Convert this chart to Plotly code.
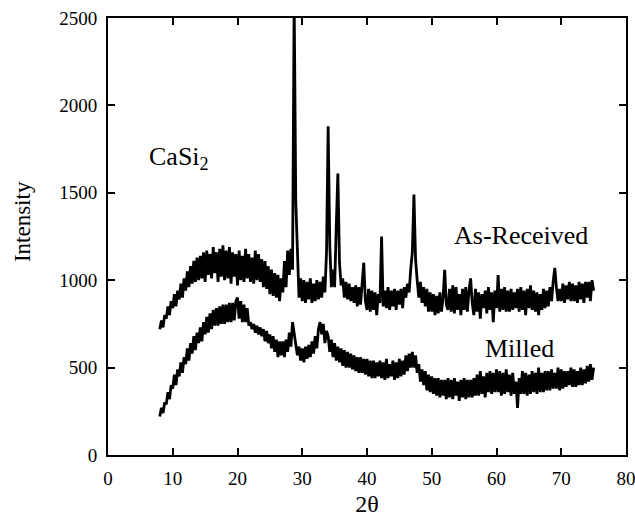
import numpy as np
import plotly.graph_objects as go

# 2-theta grid, 0.25 deg steps from 8 to 75
two_theta = np.arange(8.0, 75.01, 0.25)

as_received = [
    720, 770, 730, 800,  780, 850, 800, 880,  840, 920, 850, 940,  890, 980, 900, 1010,  # 8-11
    940, 1050, 960, 1080,  980, 1110, 990, 1130,  1000, 1140, 1010, 1160,  990, 1170, 1030, 1150,  # 12-15
    1010, 1190, 1040, 1160,  990, 1180, 1020, 1200,  1000, 1170, 1010, 1190,  980, 1160, 1020, 1150,  # 16-19
    970, 1170, 1000, 1140,  990, 1180, 1010, 1150,  990, 1130, 980, 1170,  1000, 1150, 990, 1120,  # 20-23
    960, 1110, 950, 1080,  920, 1060, 910, 1040,  900, 1030, 880, 1010,  930, 1110, 960, 1170,  # 24-27
    1030, 1180, 1060, 2600,  1450, 1150, 900, 1010,  880, 1000, 870, 990,  890, 1010, 870, 980,  # 28-31
    880, 1000, 890, 990,  900, 1020, 930, 1160,  1880, 1200, 960, 1060,  960, 1300, 1610, 1100,  # 32-35
    970, 1010, 900, 990,  890, 980, 880, 960,  870, 970, 850, 960,  860, 980, 1100, 880,  # 36-39
    830, 950, 820, 940,  830, 930, 800, 920,  870, 1250, 850, 940,  840, 960, 830, 940,  # 40-43
    850, 950, 830, 940,  860, 950, 840, 960,  900, 980, 930, 1060,  1160, 1490, 1120, 1000,  # 44-47
    900, 990, 870, 960,  850, 950, 820, 930,  820, 920, 800, 910,  810, 930, 820, 900,  # 48-51
    1060, 860, 830, 950,  820, 970, 810, 960,  830, 920, 800, 950,  830, 960, 820, 940,  # 52-55
    1010, 870, 800, 950,  820, 930, 780, 920,  840, 940, 810, 960,  830, 930, 760, 940,  # 56-59
    840, 1030, 820, 950,  830, 960, 820, 940,  820, 950, 830, 930,  840, 950, 820, 960,  # 60-63
    830, 940, 800, 950,  840, 970, 830, 940,  820, 930, 800, 920,  830, 950, 840, 940,  # 64-67
    850, 960, 880, 990,  1070, 960, 880, 950,  880, 980, 870, 970,  890, 990, 880, 980,  # 68-71
    880, 970, 870, 990,  890, 980, 870, 990,  900, 990, 880, 1000,  940,  # 72-75
]

milled = [
    220, 270, 240, 300,  290, 360, 320, 400,  380, 460, 400, 490,  450, 530, 470, 560,  # 8-11
    520, 610, 540, 640,  580, 680, 600, 700,  640, 730, 650, 760,  690, 790, 700, 810,  # 12-15
    720, 830, 740, 840,  740, 850, 750, 860,  750, 860, 760, 870,  760, 870, 770, 880,  # 16-19
    900, 780, 880, 760,  860, 760, 840, 740,  760, 720, 750, 700,  740, 690, 730, 680,  # 20-23
    720, 650, 710, 640,  690, 610, 680, 590,  660, 560, 650, 570,  650, 560, 660, 590,  # 24-27
    700, 620, 760, 700,  650, 570, 620, 540,  610, 530, 620, 550,  630, 560, 650, 580,  # 28-31
    680, 610, 720, 760,  690, 750, 640, 710,  680, 590, 660, 560,  640, 540, 620, 530,  # 32-35
    610, 510, 600, 500,  590, 500, 580, 490,  570, 480, 560, 470,  560, 470, 550, 460,  # 36-39
    550, 450, 540, 440,  540, 440, 530, 450,  540, 440, 530, 430,  550, 440, 520, 450,  # 40-43
    540, 430, 530, 440,  550, 450, 540, 460,  570, 480, 580, 500,  590, 500, 570, 470,  # 44-47
    520, 420, 490, 400,  480, 370, 460, 360,  450, 350, 440, 340,  440, 330, 430, 340,  # 48-51
    430, 320, 440, 330,  430, 320, 440, 340,  420, 310, 430, 330,  440, 320, 430, 330,  # 52-55
    430, 330, 440, 340,  460, 340, 480, 350,  450, 330, 470, 360,  480, 350, 470, 360,  # 56-59
    490, 360, 480, 340,  470, 350, 490, 360,  460, 340, 470, 350,  420, 270, 440, 350,  # 60-63
    480, 350, 470, 340,  460, 350, 480, 360,  470, 350, 500, 360,  470, 360, 480, 370,  # 64-67
    480, 370, 490, 380,  470, 380, 500, 370,  490, 380, 480, 390,  480, 400, 500, 390,  # 68-71
    490, 390, 480, 400,  500, 400, 490, 410,  510, 420, 520, 430,  500,  # 72-75
]

serif = '"Liberation Serif", "Times New Roman", Times, serif'

fig = go.Figure()
fig.add_trace(go.Scatter(x=two_theta, y=as_received, mode="lines",
                         line=dict(color="black", width=2.8), name="As-Received"))
fig.add_trace(go.Scatter(x=two_theta, y=milled, mode="lines",
                         line=dict(color="black", width=2.8), name="Milled"))

fig.add_annotation(x=6.0, y=1700, xanchor="left", text="CaSi<sub>2</sub>", showarrow=False,
                   font=dict(size=26, family=serif, color="black"))
fig.add_annotation(x=63.8, y=1255, text="As-Received", showarrow=False,
                   font=dict(size=26, family=serif, color="black"))
fig.add_annotation(x=63.6, y=612, text="Milled", showarrow=False,
                   font=dict(size=26, family=serif, color="black"))
# y-axis title sits a little above the middle of the axis in the original
fig.add_annotation(x=-0.166, y=0.533, xref="paper", yref="paper", xanchor="center",
                   yanchor="middle", text="Intensity", textangle=-90, showarrow=False,
                   font=dict(size=23, family=serif, color="black"))

axis_style = dict(showline=True, linecolor="black", linewidth=2, mirror="allticks",
                  ticks="inside", ticklen=7, tickwidth=2, tickcolor="black",
                  showgrid=False, zeroline=False, automargin=False, ticklabelstandoff=5,
                  ticklabeloverflow="allow",
                  tickfont=dict(size=19, family=serif, color="black"))

fig.update_xaxes(range=[0, 80], dtick=10,
                 title=dict(text="2θ", font=dict(size=24, family=serif, color="black"), standoff=8),
                 **axis_style)
fig.update_yaxes(range=[0, 2500], dtick=500, **axis_style)

fig.update_layout(width=635, height=517, showlegend=False,
                  plot_bgcolor="white", paper_bgcolor="white",
                  margin=dict(l=108, r=9, t=18, b=62),
                  font=dict(family=serif, size=19, color="black"))

# drop the default 8px page margin so the figure fills the window exactly
fig.write_html("out.html", config={"displayModeBar": False},
               post_script="document.body.style.margin='0';")
